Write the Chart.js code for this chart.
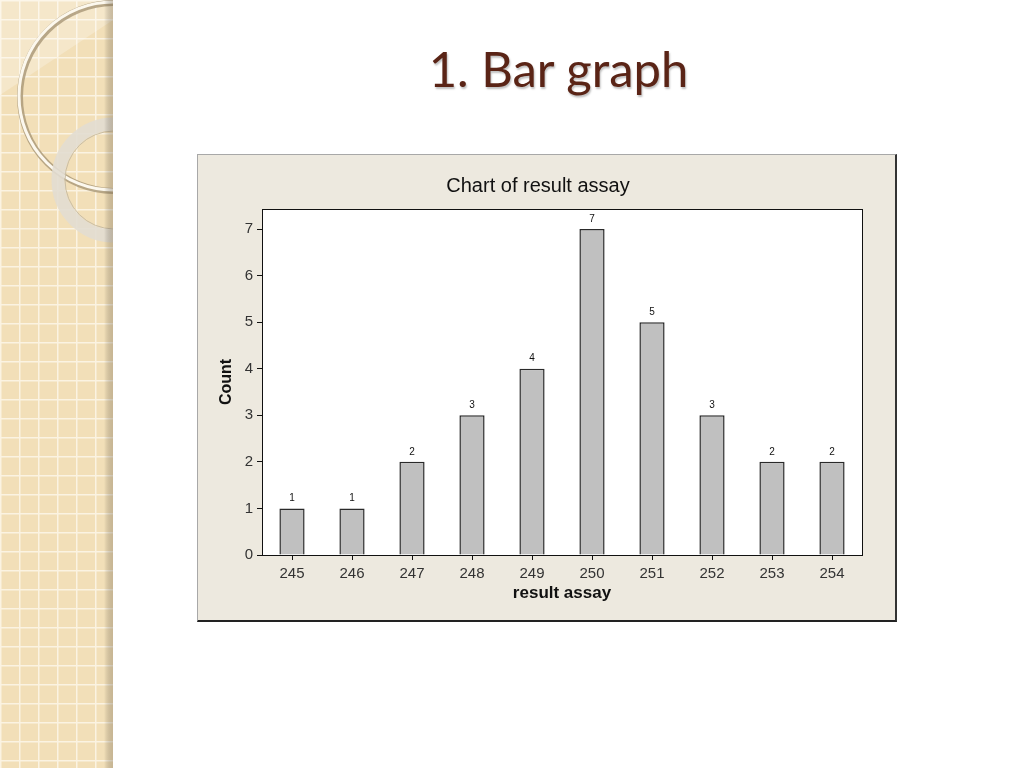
<!DOCTYPE html>
<html><head><meta charset="utf-8">
<script src="https://cdn.jsdelivr.net/npm/chart.js@4"></script>
<style>
html,body{margin:0;padding:0;background:#fff;width:1024px;height:768px;overflow:hidden;}
#deco{position:absolute;left:0;top:0;}
#title{position:absolute;left:0;top:39px;width:1117px;text-align:center;font-family:Lato,"Open Sans",sans-serif;font-size:49px;color:#5a2416;text-shadow:1px 2px 2px rgba(0,0,0,0.25);margin:0;font-weight:normal;}
#panel{position:absolute;left:197px;top:154px;width:697px;height:465px;background:#EDE9DF;border-top:1px solid #a8a8a8;border-left:1px solid #a8a8a8;border-right:2px solid #333;border-bottom:2px solid #222;}
#wrap{position:absolute;left:0;top:0;width:697px;height:465px;}
</style></head><body>
<svg id="deco" width="120" height="768" xmlns="http://www.w3.org/2000/svg">
<defs>
<pattern id="grid" width="19" height="19" patternUnits="userSpaceOnUse">
<rect width="19" height="19" fill="#f2dfb8"/>
<path d="M0 0.5 H19 M0.5 0 V19" stroke="#fbf3e2" stroke-width="2"/>
</pattern>
<linearGradient id="sh" x1="0" x2="1"><stop offset="0" stop-color="#000" stop-opacity="0"/><stop offset="1" stop-color="#7a6a50" stop-opacity="0.35"/></linearGradient>
<clipPath id="cl"><rect x="0" y="0" width="113" height="768"/></clipPath>
</defs>
<rect x="0" y="0" width="113" height="768" fill="url(#grid)"/>
<g clip-path="url(#cl)">
<path d="M0 0 H113 V20 L0 95 Z" fill="#fff" opacity="0.25"/>
<circle cx="114" cy="97" r="94" fill="none" stroke="#a89676" stroke-width="6" opacity="0.8"/>
<circle cx="113" cy="96" r="94" fill="none" stroke="#fcf8ee" stroke-width="3"/>
<circle cx="114" cy="180" r="56" fill="none" stroke="#e2ddd2" stroke-width="13" opacity="0.9"/>
<circle cx="114" cy="180" r="49" fill="none" stroke="#c9bda4" stroke-width="1"/>
</g>
<rect x="104" y="0" width="9" height="768" fill="url(#sh)"/>
</svg>
<h1 id="title">1. Bar graph</h1>
<div id="panel"><div id="wrap"><canvas id="c" width="697" height="465"></canvas></div></div>
<script>
const categories = ['245','246','247','248','249','250','251','252','253','254'];
const counts = [1,1,2,3,4,7,5,3,2,2];
const yTicks = [0,1,2,3,4,5,6,7];
const chartTitle = 'Chart of result assay';
const xTitle = 'result assay';
const yTitle = 'Count';

const FONT = '"Liberation Sans", Arial, sans-serif';

const areaPlugin = {
  id: 'area',
  beforeDraw(chart){
    const a = chart.chartArea, ctx = chart.ctx;
    ctx.save(); ctx.fillStyle = '#fff'; ctx.fillRect(a.left,a.top,a.right-a.left,a.bottom-a.top); ctx.restore();
  },
  afterDraw(chart){
    const a = chart.chartArea, ctx = chart.ctx;
    ctx.save(); ctx.strokeStyle = '#111'; ctx.lineWidth = 1;
    ctx.strokeRect(Math.round(a.left)+0.5, Math.round(a.top)+0.5, Math.round(a.right-a.left), Math.round(a.bottom-a.top));
    ctx.restore();
  },
  afterDatasetsDraw(chart){
    const ctx = chart.ctx;
    const meta = chart.getDatasetMeta(0);
    ctx.save(); ctx.fillStyle = '#111'; ctx.font = '10px ' + FONT; ctx.textAlign = 'center'; ctx.textBaseline = 'bottom';
    meta.data.forEach((bar,i)=>{ ctx.fillText(String(counts[i]), bar.x, bar.y - 5); });
    ctx.restore();
  }
};

new Chart(document.getElementById('c'), {
  type: 'bar',
  data: { labels: categories, datasets: [{ data: counts, backgroundColor: '#c0c0c0', borderColor: '#2a2a2a', borderWidth: 1.5, barPercentage: 0.42, categoryPercentage: 1 }] },
  options: {
    responsive: false, animation: false,
    layout: { padding: { left: 16, right: 33, top: 0, bottom: 12 } },
    plugins: {
      legend: { display: false }, tooltip: { enabled: false },
      title: { display: true, text: chartTitle, color: '#111', font: { family: FONT, size: 20, weight: 'normal', lineHeight: 1.2 }, padding: { top: 19, bottom: 11 } }
    },
    scales: {
      x: {
        grid: { display: true, offset: false, drawOnChartArea: false, drawTicks: true, tickLength: 5, tickColor: '#111' },
        border: { display: true, color: '#111' },
        ticks: { color: '#333', font: { family: FONT, size: 15 }, padding: 5, maxRotation: 0 },
        title: { display: true, text: xTitle, color: '#111', font: { family: FONT, size: 17, weight: 'bold', lineHeight: 1.2 }, padding: { top: 4, bottom: 4 } },
        afterFit(s){ s.height = 53; }
      },
      y: {
        min: 0, max: 7.43,
        grid: { display: true, drawOnChartArea: false, drawTicks: true, tickLength: 5, tickColor: '#111' },
        border: { display: true, color: '#111' },
        ticks: { stepSize: 1, includeBounds: false, color: '#333', font: { family: FONT, size: 15 }, padding: 4 },
        afterBuildTicks(s){ s.ticks = yTicks.map(v=>({value:v})); },
        title: { display: true, text: yTitle, color: '#111', font: { family: FONT, size: 16, weight: 'bold', lineHeight: 1.2 }, padding: { top: 3, bottom: 4 } },
        afterFit(s){ s.width = 48; }
      }
    }
  },
  plugins: [areaPlugin]
});
</script>
</body></html>
